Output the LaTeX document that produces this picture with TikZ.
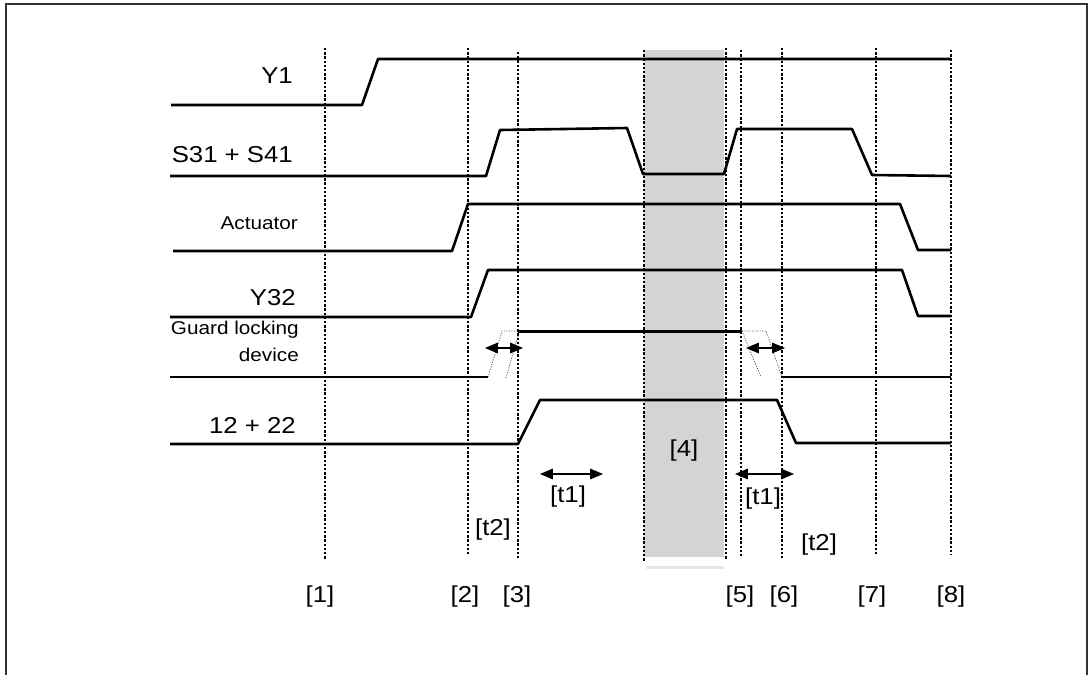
\documentclass[tikz,border=0pt]{standalone}
\usepackage{fontspec}
\setmainfont{Liberation Sans}[FakeStretch=1.12]
\usepackage{xcolor}
\usetikzlibrary{arrows}
\definecolor{lockgray}{RGB}{211,212,214}
\definecolor{framegray}{RGB}{51,51,51}

\begin{document}
\begin{tikzpicture}[x=1pt,y=-1pt,
    sig/.style={black,line width=2.6pt,line join=round},
    mark line/.style={black,line width=2.7pt,dash pattern=on 2.4pt off 1.8pt},
    ghost/.style={black!70,line width=0.8pt,dash pattern=on 1pt off 1.5pt},
    big/.style={inner sep=0,font=\fontsize{23}{27}\selectfont},
    small/.style={inner sep=0,font=\fontsize{18.5}{27}\selectfont}]
\begin{scope}[>=triangle 45]

    \useasboundingbox (0,0) rectangle (1088,675);
    \draw[framegray,line width=2pt] (6,675) -- (6,4) -- (1087,4) -- (1087,675);

    \fill[lockgray] (644,50) rectangle (724,557);
    \draw[lockgray!60,line width=3pt] (646,567) -- (724,567);

    \draw[mark line] (325,48) -- (325,560);
    \draw[mark line] (468,48) -- (468,555);
    \draw[mark line] (518,52) -- (518,559);
    \draw[mark line] (644,50) -- (644,562);
    \draw[mark line] (726,48) -- (726,560);
    \draw[mark line] (741,50) -- (741,558);
    \draw[mark line] (782,48) -- (782,558);
    \draw[mark line] (876,48) -- (876,555);
    \draw[mark line] (951,50) -- (951,555);

    \node[big,anchor=east] (y1) at (293,76) {Y1};
    \draw[sig] (171,105) -- (362,105) -- (378,59) -- (951,59);

    \node[big,anchor=east] (s31) at (293,155) {S31 + S41};
    \draw[sig] (170,176) -- (486,176) -- (500,130) -- (627,128)
               -- (643,174) -- (724,174) -- (737,129) -- (852,129)
               -- (872,175) -- (951,176);

    \node[small,anchor=east] (act) at (298,223) {Actuator};
    \draw[sig] (173,251) -- (452,251) -- (468,204) -- (900,204)
               -- (918,250) -- (951,250);

    \node[big,anchor=east] (y32) at (296,298) {Y32};
    \draw[sig] (170,317) -- (471,317) -- (488,270) -- (902,270)
               -- (918,316) -- (951,316);

    \node[small,anchor=east,align=right] (guard) at (299,341) {Guard locking\\device};
    \draw[sig] (170,377) -- (488,377);
    \draw[ghost] (488,377) -- (502,331) -- (518,331);
    \draw[ghost] (506,378) -- (518,336);
    \draw[sig] (518,331.5) -- (742,331.5);
    \draw[ghost] (742,331) -- (766,331) -- (782,377);
    \draw[ghost] (742,331) -- (761,377);
    \draw[sig] (782,377) -- (951,377);
    \draw[black,line width=2pt,<->] (485,348) -- (523,348);
    \draw[black,line width=2pt,<->] (746,348) -- (785,348);

    \node[big,anchor=east] (c12) at (296,425) {12 + 22};
    \draw[sig] (170,444) -- (518,444) -- (540,400) -- (777,400)
               -- (796,443) -- (951,443);

    \node[big] (p4) at (684,451) {[4]};

    \draw[black,line width=2pt,<->] (540,474) -- (603,474);
    \node[big] (t1a) at (568,497) {[t1]};
    \draw[black,line width=2pt,<->] (735,474) -- (794,474);
    \node[big] (t1b) at (763,499) {[t1]};
    \node[big] (t2a) at (493,530) {[t2]};
    \node[big] (t2b) at (819,545) {[t2]};

    \node[big] (m1) at (320,597) {[1]};
    \node[big] (m2) at (465,597) {[2]};
    \node[big] (m3) at (517,597) {[3]};
    \node[big] (m5) at (740,597) {[5]};
    \node[big] (m6) at (784,597) {[6]};
    \node[big] (m7) at (872,597) {[7]};
    \node[big] (m8) at (951,597) {[8]};
\end{scope}
\end{tikzpicture}
\end{document}
